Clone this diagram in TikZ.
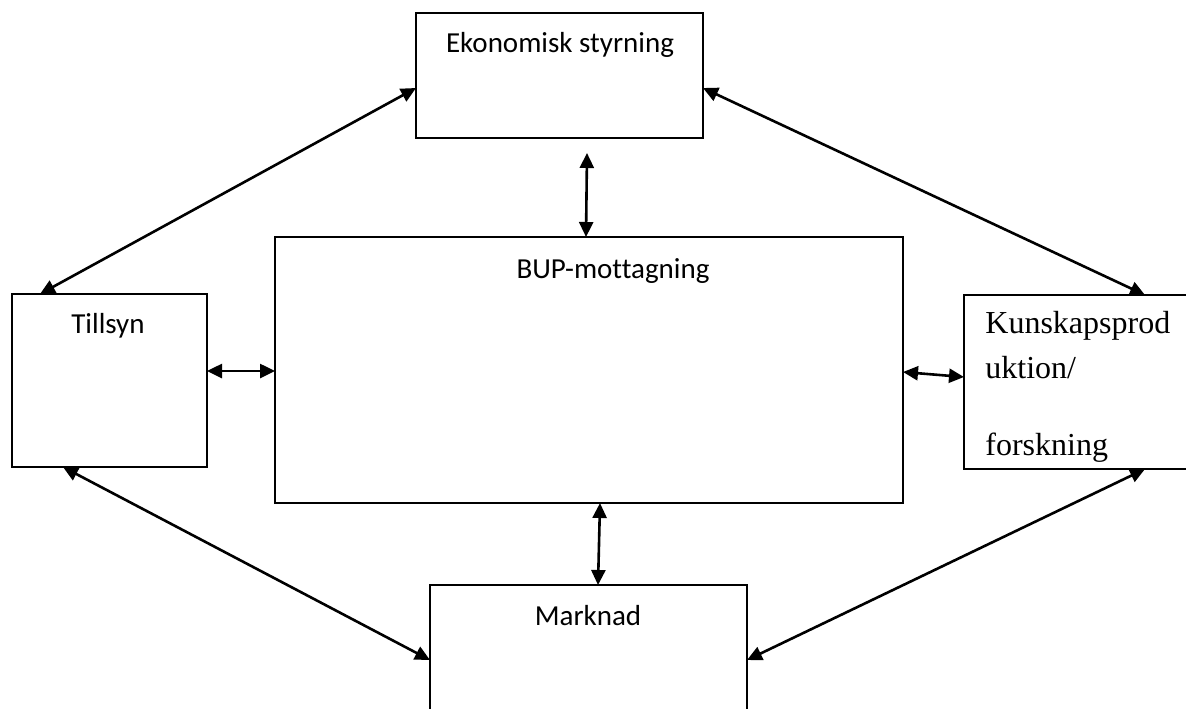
\documentclass[tikz,border=0pt]{standalone}
\usepackage{fontspec}
\setmainfont{Carlito}[Ligatures=NoCommon]
\newfontfamily\timesfont{Liberation Serif}
\usetikzlibrary{arrows.meta}

\tikzset{
    box/.style={draw, line width=1pt, inner sep=0pt, outer sep=0pt, anchor=north west},
    txt/.style={anchor=base, inner sep=0pt, font=\fontsize{14.5pt}{17pt}\selectfont},
    serif/.style={anchor=base west, inner sep=0pt, font=\timesfont\fontsize{16pt}{19pt}\selectfont},
    dbl/.style={{Triangle[length=7.5pt,width=7pt]}-{Triangle[length=7.5pt,width=7pt]}, line width=1.3pt}
}

\begin{document}
\begin{tikzpicture}[x=0.5pt, y=-0.5pt]
            \useasboundingbox (0, 0) rectangle (1186, 708);

            \node[box, minimum width=143.5pt, minimum height=62.5pt] (eko) at (416, 13) {};
            \node[box, minimum width=314pt, minimum height=133pt] (bup) at (275, 237) {};
            \node[box, minimum width=97.5pt, minimum height=86.5pt] (til) at (12, 294) {};
            \node[box, minimum width=120pt, minimum height=87pt] (kun) at (964, 295) {};
            \node[box, minimum width=158.5pt, minimum height=75pt] (mar) at (430, 585) {};

            \node[txt] (ekotxt) at (560, 52) {Ekonomisk styrning};
            \node[txt] (buptxt) at (613, 278) {BUP-mottagning};
            \node[txt] (tiltxt) at (108, 333) {Tillsyn};
            \node[txt] (martxt) at (588, 625) {Marknad};
            \node[serif] (kuntxt1) at (985, 333) {Kunskapsprod};
            \node[serif] (kuntxt2) at (985, 378) {uktion/};
            \node[serif] (kuntxt3) at (985, 455) {forskning};

            \draw[dbl] ([yshift=-6.25pt]eko.west) to ([xshift=14pt]til.north west);
            \draw[dbl] ([yshift=-6.25pt]eko.east) to ([xshift=90.5pt]kun.north west);
            \draw[dbl] ([xshift=13.75pt, yshift=-7.5pt]eko.south) to ([xshift=-1.5pt]bup.north);
            \draw[dbl] ([yshift=4.75pt]til.east) to ([yshift=-0.5pt]bup.west);
            \draw[dbl] ([yshift=-1pt]bup.east) to ([yshift=2.5pt]kun.west);
            \draw[dbl] ([xshift=5.5pt]bup.south) to ([xshift=4.75pt]mar.north);
            \draw[dbl] ([xshift=25.5pt]til.south west) to ([yshift=-37.5pt]mar.north west);
            \draw[dbl] ([xshift=90.5pt]kun.south west) to ([yshift=-37.5pt]mar.north east);
        \end{tikzpicture}
\end{document}
